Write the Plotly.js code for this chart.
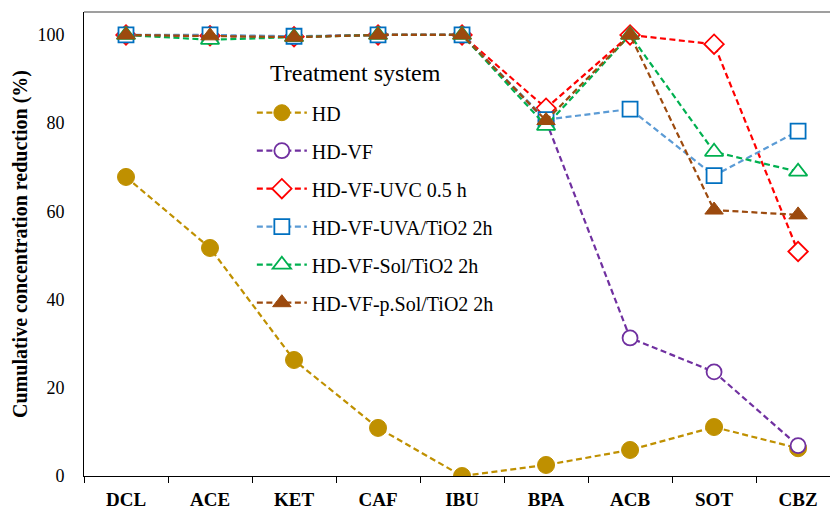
<!DOCTYPE html>
<html>
<head>
<meta charset="utf-8">
<script src="https://cdn.plot.ly/plotly-3.0.1.min.js"></script>
<style>html,body{margin:0;padding:0;background:#fff;}#chart{width:830px;height:509px;}</style>
</head>
<body>
<div id="chart"></div>
<script>
const categories = ["DCL","ACE","KET","CAF","IBU","BPA","ACB","SOT","CBZ"];
const seriesNames = ["HD","HD-VF","HD-VF-UVC 0.5 h","HD-VF-UVA/TiO2 2h","HD-VF-Sol/TiO2 2h","HD-VF-p.Sol/TiO2 2h"];
const legendTitle = "Treatment system";
const yTickVals = [0, 20, 40, 60, 80, 100];
const hd      = [67.8, 51.7, 26.3, 10.9, 0.0, 2.5, 5.9, 11.1, 6.3];
const hdVf    = [100, 99.8, 99.6, 100, 100, 80.5, 31.3, 23.6, 6.9];
const uvc     = [100, 99.8, 99.6, 100, 100, 83.4, 100, 97.9, 50.9];
const uva     = [100, 100, 99.7, 100, 100, 80.8, 83.2, 68.1, 78.2];
const sol     = [100, 98.9, 99.5, 100, 100, 79.4, 100, 73.5, 69.0];
const psol    = [100, 99.8, 99.5, 100, 100, 80.6, 100, 60.3, 59.2];

const allValues = [hd, hdVf, uvc, uva, sol, psol];
const lineColors = ["#BF9000", "#7030A0", "#FF0000", "#5B9BD5", "#00B050", "#9C4A0E"];
const markerStyles = [
  {symbol: "circle", size: 17, color: "#BF9000", line: {color: "#BF9000", width: 1}},
  {symbol: "circle", size: 15, color: "#ffffff", line: {color: "#7030A0", width: 1.8}},
  {symbol: "diamond", size: 15, color: "#ffffff", line: {color: "#FF0000", width: 1.8}},
  {symbol: "square", size: 15, color: "#ffffff", line: {color: "#0070C0", width: 1.8}},
  {symbol: "triangle-up", size: 16, color: "#ffffff", line: {color: "#00B050", width: 1.8}},
  {symbol: "triangle-up", size: 16, color: "#9C4A0E", line: {color: "#9C4A0E", width: 1}}
];

const traces = seriesNames.map((name, i) => ({
  x: categories,
  y: allValues[i],
  name: name,
  legendgroup: "g" + i,
  type: "scatter",
  mode: "lines+markers",
  line: {color: lineColors[i], width: 2.2, dash: "6px,3.5px"},
  marker: markerStyles[i]
}));

const font = "'Liberation Serif', 'Times New Roman', serif";
const yRange = [0, 105.2];
const layout = {
  width: 830, height: 509,
  margin: {l: 84, r: 0, t: 12, b: 33},
  paper_bgcolor: "#fff", plot_bgcolor: "#fff",
  font: {family: font, size: 16, color: "#000"},
  showlegend: true,
  legend: {
    x: 0.225, y: 0.825, xanchor: "left", yanchor: "top",
    bgcolor: "rgba(0,0,0,0)",
    font: {family: font, size: 20, color: "#000"},
    traceorder: "grouped",
    tracegroupgap: 9,
    itemwidth: 50
  },
  annotations: [
    {text: legendTitle, xref: "paper", yref: "paper", x: (268 - 84) / 746, y: (476 - 73) / 464,
     xanchor: "left", yanchor: "middle", showarrow: false, font: {family: font, size: 24, color: "#000"}}
  ],
  xaxis: {
    type: "category",
    range: [-0.5, 8.38],
    tickson: "boundaries",
    ticks: "outside", ticklen: 6, tickcolor: "#000",
    ticklabelstandoff: 6,
    showline: true, linecolor: "#000", linewidth: 1,
    showgrid: false, zeroline: false,
    tickfont: {family: font, size: 19, color: "#000", weight: "bold"}
  },
  yaxis: {
    range: yRange,
    tickvals: yTickVals,
    ticks: "outside", ticklen: 15, tickcolor: "rgba(0,0,0,0)",
    showline: true, linecolor: "#000", linewidth: 1,
    showgrid: false, zeroline: false,
    tickfont: {family: font, size: 18, color: "#000"},
    title: {text: "<b>Cumulative concentration reduction (%)</b>", font: {family: font, size: 20, color: "#000"}, standoff: 4}
  },
  yaxis2: {
    overlaying: "y", side: "left",
    range: yRange,
    tickvals: yTickVals,
    ticks: "outside", ticklen: 5, tickcolor: "#000",
    showticklabels: false, showline: false, showgrid: false, zeroline: false
  },
  shapes: [
    {type: "line", xref: "paper", yref: "paper", x0: 0, x1: 1, y0: 1, y1: 1, line: {color: "#7f7f7f", width: 1.5}}
  ]
};

Plotly.newPlot("chart", traces, layout, {displayModeBar: false, staticPlot: true});
</script>
</body>
</html>
